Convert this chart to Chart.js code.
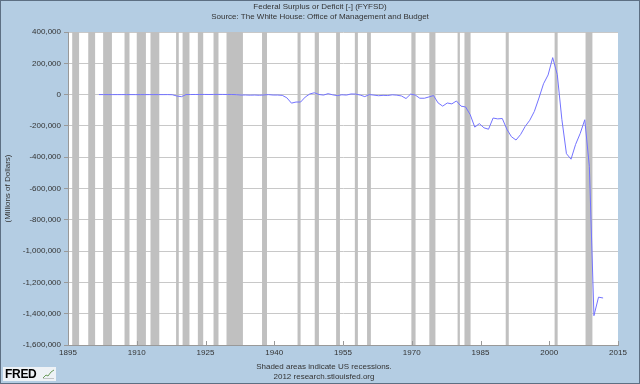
<!DOCTYPE html>
<html>
<head>
<meta charset="utf-8">
<title>Federal Surplus or Deficit [-] (FYFSD)</title>
<script src="https://cdn.jsdelivr.net/npm/chart.js@4.4.0/dist/chart.umd.min.js"></script>
<style>
html, body { margin: 0; padding: 0; }
body {
  width: 640px; height: 384px; position: relative; overflow: hidden;
  background: #b4cde3; color: #333;
  font-family: "Liberation Sans", Arial, sans-serif;
}
#wrap { position: absolute; left: 0; top: 0; width: 640px; height: 384px; }
.txt { position: absolute; left: 0; width: 640px; text-align: center; font-size: 8px; line-height: 10px; }
.frame { position: absolute; left: 0; top: 0; width: 638px; height: 382px; border: 1px solid #5d6f83; pointer-events: none; }
.logo {
  position: absolute; left: 3px; top: 367px; width: 53px; height: 14px;
  background: #eef2f6; font: bold 12px "Liberation Sans", Arial, sans-serif; color: #000;
  line-height: 14px; padding-left: 2px; box-sizing: border-box; letter-spacing: -0.3px;
}
.logo svg { position: absolute; right: 2px; top: 2px; }
</style>
</head>
<body>
<div id="wrap"><canvas id="chart" width="640" height="384"></canvas></div>
<div class="txt" style="top:2px">Federal Surplus or Deficit [-] (FYFSD)</div>
<div class="txt" style="top:12px">Source: The White House: Office of Management and Budget</div>
<div class="txt" style="top:362px;left:4px">Shaded areas indicate US recessions.</div>
<div class="txt" style="top:372px;left:4px">2012 research.stlouisfed.org</div>
<div class="logo">FRED<svg width="11" height="10"><path d="M0 9 L3 6 L5 7 L8 3 L11 1" stroke="#6a9a5a" fill="none" stroke-width="1"/><path d="M0 10 L11 10" stroke="#999"/></svg></div>
<div class="frame"></div>
<script>
// fiscal years and surplus(+)/deficit(-), millions of dollars
const years = [];
for (let y = 1901; y <= 2011; y++) years.push(y);

const surplus = [
  63, 77, 45, -43, -23, 25, 87, -57, -89, -18,
  11, 3, 0, 0, -63, 48, -853, -9032, -13363, 291,
  509, 736, 713, 963, 717, 865, 1155, 939, 734, 738,
  -462, -2735, -2602, -3586, -2803, -4304, -2193, -89, -2846, -2920,
  -4941, -20503, -54554, -47557, -47553, -15936, 4018, 11796, 580, -3119,
  6102, -1519, -6493, -1154, -2993, 3947, 3412, -2769, -12849, 301,
  -3335, -7146, -4756, -5915, -1411, -3698, -8643, -25161, 3242, -2842,
  -23033, -23373, -14908, -6135, -53242, -73732, -53659, -59185, -40726, -73830,
  -78968, -127977, -207802, -185367, -212308, -221227, -149730, -155178, -152639, -221036,
  -269238, -290321, -255051, -203186, -163952, -107431, -21884, 69270, 125610, 236241,
  128236, -157758, -377585, -412727, -318346, -248181, -160701, -458553, -1412688, -1294373,
  -1299593
];

// NBER recessions, peak and trough months
const recStart = ["1895-12", "1899-06", "1902-09", "1907-05", "1910-01", "1913-01", "1918-08", "1920-01",
  "1923-05", "1926-10", "1929-08", "1937-05", "1945-02", "1948-11", "1953-07", "1957-08", "1960-04",
  "1969-12", "1973-11", "1980-01", "1981-07", "1990-07", "2001-03", "2007-12"];
const recEnd = ["1897-06", "1900-12", "1904-08", "1908-06", "1912-01", "1914-12", "1919-03", "1921-07",
  "1924-07", "1927-11", "1933-03", "1938-06", "1945-10", "1949-10", "1954-05", "1958-04", "1961-02",
  "1970-11", "1975-03", "1980-07", "1982-11", "1991-03", "2001-11", "2009-06"];

const xTicks = [1895, 1910, 1925, 1940, 1955, 1970, 1985, 2000, 2015];

function toYear(s) {
  const p = s.split("-");
  return Number(p[0]) + (Number(p[1]) - 1) / 12;
}

// observations are dated at the start of the fourth quarter of each year
const points = years.map((y, i) => ({ x: y + 0.75, y: surplus[i] }));

const plotBack = {
  id: "plotBack",
  beforeDraw(chart) {
    const { ctx, chartArea: a } = chart;
    ctx.save();
    ctx.fillStyle = "#ffffff";
    ctx.fillRect(a.left, a.top, a.right - a.left, a.bottom - a.top);
    ctx.restore();
  }
};

const recessionShade = {
  id: "recessionShade",
  beforeDatasetsDraw(chart) {
    const { ctx, chartArea: a, scales: { x } } = chart;
    ctx.save();
    ctx.fillStyle = "#c0c0c0";
    recStart.forEach((s, i) => {
      const x0 = Math.max(x.getPixelForValue(toYear(s)), a.left);
      const x1 = Math.min(x.getPixelForValue(toYear(recEnd[i])), a.right);
      if (x1 > x0) ctx.fillRect(x0, a.top, x1 - x0, a.bottom - a.top);
    });
    // small tick marks pointing up into the plot
    ctx.strokeStyle = "#999999";
    ctx.lineWidth = 1;
    xTicks.forEach(t => {
      const px = Math.round(x.getPixelForValue(t)) + 0.5;
      ctx.beginPath();
      ctx.moveTo(px, a.bottom);
      ctx.lineTo(px, a.bottom - 4);
      ctx.stroke();
    });
    ctx.restore();
  }
};

const tickFont = { family: "'Liberation Sans', Arial, sans-serif", size: 8 };

new Chart(document.getElementById("chart"), {
  type: "line",
  data: {
    datasets: [{
      label: "FYFSD",
      data: points,
      borderColor: "#7373ff",
      borderWidth: 1,
      pointRadius: 0,
      tension: 0,
      fill: false
    }]
  },
  options: {
    responsive: false,
    animation: false,
    layout: { padding: { left: 0, right: 22, top: 32, bottom: 25 } },
    plugins: {
      legend: { display: false },
      tooltip: { enabled: false }
    },
    scales: {
      x: {
        type: "linear",
        min: 1895,
        max: 2015,
        afterBuildTicks: s => { s.ticks = xTicks.map(v => ({ value: v })); },
        afterFit: s => { s.height = 14; },
        ticks: {
          color: "#333",
          font: tickFont,
          padding: 3,
          maxRotation: 0,
          callback: v => String(v)
        },
        grid: { drawOnChartArea: false, drawTicks: false },
        border: { color: "#999999" }
      },
      y: {
        min: -1600000,
        max: 400000,
        afterFit: s => { s.width = 68; },
        ticks: {
          stepSize: 200000,
          color: "#333",
          font: tickFont,
          padding: 3,
          callback: v => v.toLocaleString("en-US")
        },
        grid: { color: "#c8c8c8", tickLength: 4, tickColor: "#999999" },
        border: { color: "#999999" },
        title: {
          display: true,
          text: "(Millions of Dollars)",
          color: "#333",
          font: tickFont,
          padding: { top: 3, bottom: 0 }
        }
      }
    }
  },
  plugins: [plotBack, recessionShade]
});
</script>
</body>
</html>
